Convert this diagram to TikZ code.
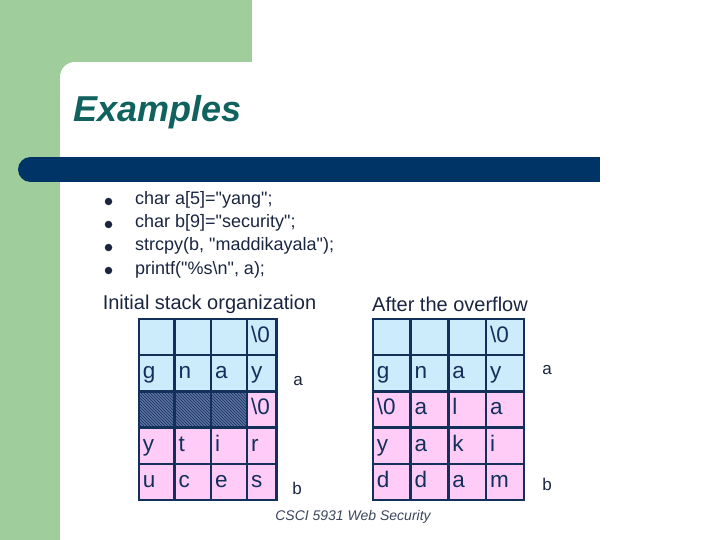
\documentclass[tikz,border=0pt]{standalone}
\usepackage{fontspec}
\setmainfont{Liberation Sans}[Ligatures=TeXOff]
\usetikzlibrary{patterns,positioning}
\definecolor{SlideGreen}{HTML}{9FCD9C}
\definecolor{BarNavy}{HTML}{003366}
\definecolor{TitleTeal}{HTML}{10625F}
\definecolor{GridNavy}{HTML}{12305A}
\definecolor{CellBlue}{HTML}{CCECFB}
\definecolor{CellPink}{HTML}{FFCCF7}
\definecolor{HatchBack}{HTML}{5E72A2}
\definecolor{InkDark}{HTML}{1A2540}
\newcommand{\nulch}{\textbackslash0}

\begin{document}
\begin{tikzpicture}[x=1pt,y=-1pt,
    cell/.style={draw=GridNavy,line width=2.4pt,anchor=north west,inner xsep=4pt,inner ysep=0pt,
      minimum height=36.2pt,align=left,text height=16pt,text depth=5pt,text=GridNavy,
      font=\fontsize{22.5}{24}\selectfont},
    hatched/.style={preaction={fill=HatchBack},pattern=north west lines,pattern color=GridNavy},
    item/.style={anchor=base west,inner sep=0pt,text=InkDark,font=\fontsize{18}{20}\selectfont},
    dot/.style={circle,fill=InkDark,inner sep=0pt,minimum size=7.5pt},
    heading/.style={inner sep=0pt,text=InkDark,font=\fontsize{20}{22}\selectfont},
    varlabel/.style={inner sep=0pt,text=InkDark,font=\fontsize{17}{19}\selectfont}]
  \useasboundingbox (0,0) rectangle (720,540);
  \fill[white] (0,0) rectangle (720,540);
  % slide background
  \fill[SlideGreen] (0,0) rectangle (252,62);
  \fill[SlideGreen] (0,0) rectangle (60,540);
  \fill[SlideGreen] (59,61) rectangle (76,78);
  \fill[white] (75,77) circle[radius=15];
  \fill[white] (75,62) rectangle (252,100);
  \fill[white] (60,77) rectangle (100,120);
  \fill[BarNavy] (30,157) rectangle (600,182);
  \fill[BarNavy] (30.5,169.5) circle[radius=12.5];

  \node[anchor=base west,inner sep=0pt,text=TitleTeal,font=\fontsize{36}{40}\selectfont\bfseries\itshape] (title) at (73,122) {Examples};

  % code lines
  \node[item] (c1) at (135,205) {char a[5]="yang";};
  \node[item] (c2) at (135,228) {char b[9]="security";};
  \node[item] (c3) at (135,251) {strcpy(b, "maddikayala");};
  \node[item] (c4) at (135,274) {printf("\%s\textbackslash n", a);};
  \node[dot] (d1) at (108.5,201.5) {};
  \node[dot] (d2) at (108.5,224.5) {};
  \node[dot] (d3) at (108.5,247.5) {};
  \node[dot] (d4) at (108.5,270.5) {};

  \node[heading] (before) at (209.5,304) {Initial stack organization};
  \node[heading] (after) at (450,304) {After the overflow};

  % initial stack
  \foreach \t/\cx/\cw [count=\c] in {/137.7/35.6,/173.3/36.7,/210/36,\nulch/246/29.3}
    {\pgfmathsetmacro\tw{\cw-8}
     \node[cell,fill=CellBlue,text width=\tw pt] (L1\c) at (\cx,317.7) {\t};}
  \foreach \t/\cx/\cw [count=\c] in {g/137.7/35.6,n/173.3/36.7,a/210/36,y/246/29.3}
    {\pgfmathsetmacro\tw{\cw-8}
     \node[cell,fill=CellBlue,text width=\tw pt] (L2\c) at (\cx,353.9) {\t};}
  \foreach \t/\cx/\cw [count=\c] in {/137.7/35.6,/173.3/36.7,/210/36}
    {\pgfmathsetmacro\tw{\cw-8}
     \node[cell,hatched,text width=\tw pt] (L3\c) at (\cx,390.1) {\t};}
  \node[cell,fill=CellPink,text width=21.3pt] (L34) at (246,390.1) {\nulch};
  \foreach \t/\cx/\cw [count=\c] in {y/137.7/35.6,t/173.3/36.7,i/210/36,r/246/29.3}
    {\pgfmathsetmacro\tw{\cw-8}
     \node[cell,fill=CellPink,text width=\tw pt] (L4\c) at (\cx,426.3) {\t};}
  \foreach \t/\cx/\cw [count=\c] in {u/137.7/35.6,c/173.3/36.7,e/210/36,s/246/29.3}
    {\pgfmathsetmacro\tw{\cw-8}
     \node[cell,fill=CellPink,text width=\tw pt] (L5\c) at (\cx,462.5) {\t};}
  \node[varlabel] (la) at (298,381) {a};
  \node[varlabel] (lb) at (297,488) {b};

  % after strcpy
  \foreach \t/\cx [count=\c] in {/371.7,/409.45,/447.2,\nulch/484.95}
    {\node[cell,fill=CellBlue,text width=29.75pt] (R1\c) at (\cx,317.7) {\t};}
  \foreach \t/\cx [count=\c] in {g/371.7,n/409.45,a/447.2,y/484.95}
    {\node[cell,fill=CellBlue,text width=29.75pt] (R2\c) at (\cx,353.9) {\t};}
  \foreach \t/\cx [count=\c] in {\nulch/371.7,a/409.45,l/447.2,a/484.95}
    {\node[cell,fill=CellPink,text width=29.75pt] (R3\c) at (\cx,390.1) {\t};}
  \foreach \t/\cx [count=\c] in {y/371.7,a/409.45,k/447.2,i/484.95}
    {\node[cell,fill=CellPink,text width=29.75pt] (R4\c) at (\cx,426.3) {\t};}
  \foreach \t/\cx [count=\c] in {d/371.7,d/409.45,a/447.2,m/484.95}
    {\node[cell,fill=CellPink,text width=29.75pt] (R5\c) at (\cx,462.5) {\t};}
  \node[varlabel] (ra) at (547,370) {a};
  \node[varlabel] (rb) at (547,484) {b};

  \node[inner sep=0pt,text=InkDark!85,font=\fontsize{14}{16}\selectfont\itshape] (footer) at (353,517) {CSCI 5931 Web Security};
\end{tikzpicture}
\end{document}
